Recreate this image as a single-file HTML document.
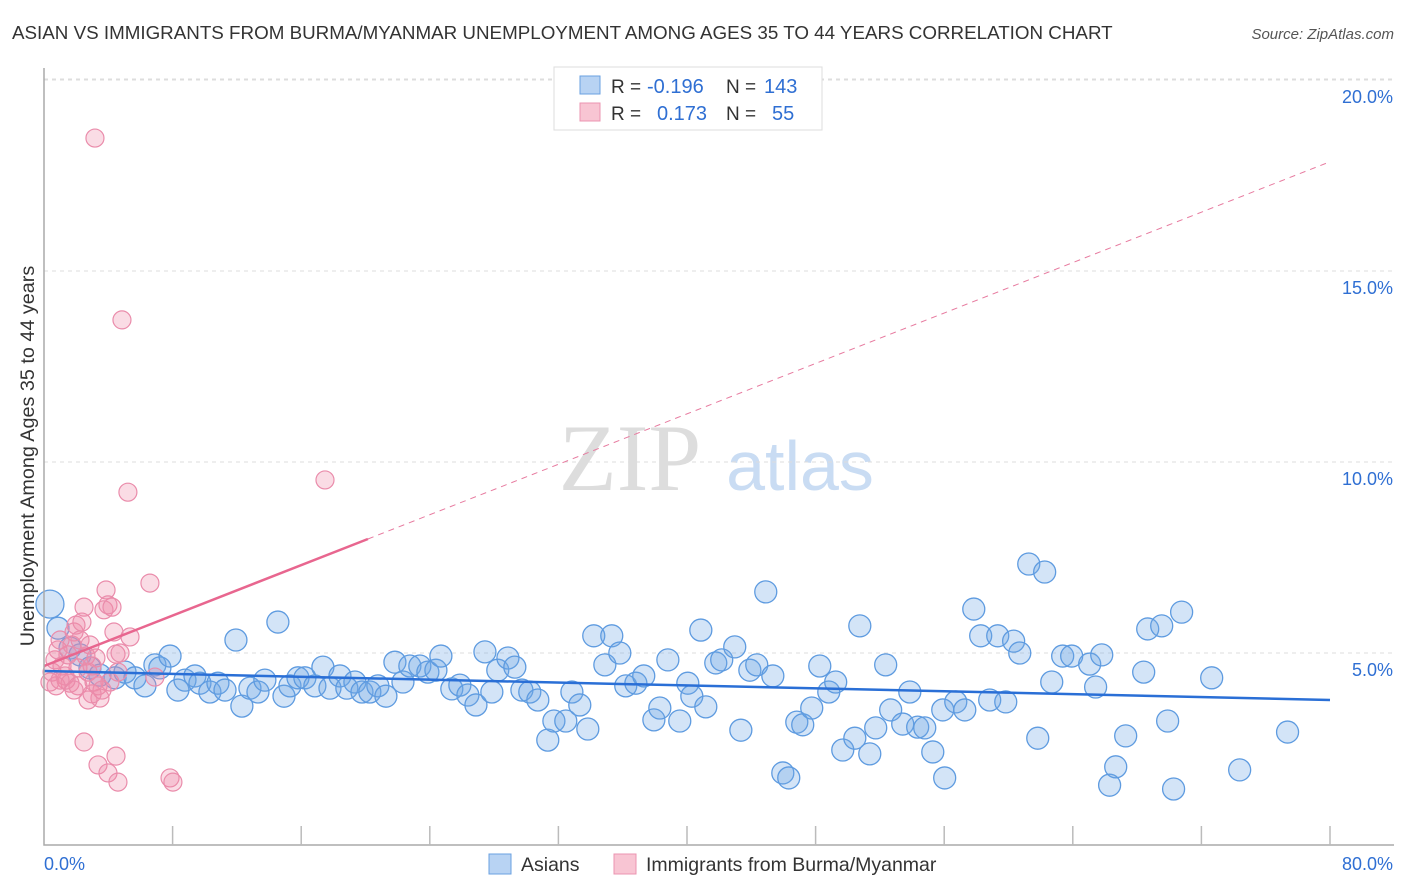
<!DOCTYPE html>
<html><head><meta charset="utf-8"><style>
body{margin:0;background:#fff;font-family:"Liberation Sans",sans-serif}
</style></head><body>
<svg id="c" width="1406" height="892" xmlns="http://www.w3.org/2000/svg" style="display:block">
<text x="12" y="39" font-size="18.8" fill="#333">ASIAN VS IMMIGRANTS FROM BURMA/MYANMAR UNEMPLOYMENT AMONG AGES 35 TO 44 YEARS CORRELATION CHART</text>
<text x="1394" y="39" font-size="15" fill="#555" font-style="italic" text-anchor="end">Source: ZipAtlas.com</text>
<text x="630" y="490" font-size="95" fill="#ddd" font-family="Liberation Serif,serif" text-anchor="middle">ZIP</text>
<text x="800" y="490" font-size="70" fill="#c9dcf3" text-anchor="middle">atlas</text>
<g id="grid"></g><g id="marks"></g><g id="axes"></g>
<text transform="translate(34,456) rotate(-90)" font-size="19.8" fill="#333" text-anchor="middle">Unemployment Among Ages 35 to 44 years</text>
<g>
<rect x="554" y="67" width="268" height="63" fill="#fff" stroke="#ddd"/>
<rect x="580" y="76" width="20" height="18" fill="#b8d3f3" stroke="#6aa0e0"/>
<rect x="580" y="103" width="20" height="18" fill="#f8c5d3" stroke="#eb94b0"/>
<text x="611" y="93" font-size="19" fill="#333">R =</text>
<text x="647" y="93" font-size="20" fill="#2f6fd3">-0.196</text>
<text x="726" y="93" font-size="19" fill="#333">N =</text>
<text x="764" y="93" font-size="20" fill="#2f6fd3">143</text>
<text x="611" y="120" font-size="19" fill="#333">R =</text>
<text x="657" y="120" font-size="20" fill="#2f6fd3">0.173</text>
<text x="726" y="120" font-size="19" fill="#333">N =</text>
<text x="772" y="120" font-size="20" fill="#2f6fd3">55</text>
</g>
<g>
<rect x="489" y="854" width="22" height="20" fill="#b8d3f3" stroke="#6aa0e0"/>
<text x="521" y="871" font-size="19.5" fill="#333">Asians</text>
<rect x="614" y="854" width="22" height="20" fill="#f8c5d3" stroke="#eb94b0"/>
<text x="646" y="871" font-size="19.5" fill="#333">Immigrants from Burma/Myanmar</text>
</g>
</svg>
<script>
const yTicks=[5,10,15,20];
const yTickLabels=["5.0%","10.0%","15.0%","20.0%"];
const xTicks=[8,16,24,32,40,48,56,64,72,80];
const asians=[[0.37,6.28],[0.87,5.65],[1.62,5.13],[2.24,4.95],[2.86,4.61],[3.48,4.42],[4.42,4.35],[5.04,4.50],[5.66,4.35],[6.28,4.14],[6.90,4.69],[7.21,4.61],[7.84,4.92],[8.33,4.03],[8.77,4.29],[9.39,4.40],[9.70,4.21],[10.32,3.98],[10.82,4.21],[11.26,4.03],[11.94,5.34],[12.31,3.61],[12.81,4.08],[13.31,3.98],[13.74,4.29],[14.55,5.81],[14.93,3.87],[15.30,4.14],[15.80,4.35],[16.23,4.35],[16.85,4.14],[17.35,4.63],[17.79,4.08],[18.41,4.40],[18.84,4.08],[19.34,4.24],[19.78,3.98],[20.27,3.98],[20.77,4.14],[21.27,3.87],[21.83,4.76],[22.33,4.24],[22.76,4.66],[23.38,4.66],[23.88,4.50],[24.38,4.55],[24.69,4.92],[25.37,4.06],[25.87,4.16],[26.37,3.90],[26.87,3.64],[27.43,5.03],[27.86,3.98],[28.23,4.55],[28.86,4.87],[29.29,4.63],[29.73,4.03],[30.22,3.98],[30.72,3.77],[31.34,2.72],[31.72,3.22],[32.46,3.22],[32.84,3.98],[33.33,3.64],[33.83,3.01],[34.20,5.45],[34.89,4.69],[35.32,5.45],[35.82,5.00],[36.19,4.14],[36.82,4.21],[37.31,4.40],[37.94,3.25],[38.31,3.56],[38.81,4.82],[39.55,3.22],[40.05,4.21],[40.30,3.87],[40.86,5.60],[41.17,3.59],[41.79,4.74],[42.16,4.82],[42.97,5.16],[43.35,2.98],[43.91,4.55],[44.34,4.69],[44.90,6.60],[45.34,4.40],[45.96,1.86],[46.33,1.73],[46.83,3.19],[47.20,3.12],[47.76,3.56],[48.26,4.66],[48.82,3.98],[49.25,4.24],[49.69,2.46],[50.44,2.77],[50.75,5.71],[51.37,2.36],[51.74,3.04],[52.36,4.69],[52.67,3.51],[53.42,3.14],[53.86,3.98],[54.35,3.06],[54.79,3.04],[55.29,2.41],[56.03,1.73],[55.91,3.51],[56.72,3.72],[57.28,3.51],[57.84,6.15],[58.27,5.45],[58.83,3.77],[59.33,5.45],[59.83,3.72],[60.32,5.31],[60.70,5.00],[61.26,7.33],[61.82,2.77],[62.25,7.12],[62.69,4.24],[63.37,4.92],[63.93,4.92],[65.05,4.71],[65.42,4.11],[65.80,4.95],[66.29,1.54],[66.67,2.02],[67.29,2.83],[68.41,4.50],[68.66,5.63],[69.53,5.71],[69.90,3.22],[70.27,1.44],[70.77,6.07],[72.64,4.35],[74.38,1.94],[77.36,2.93]];
const burma=[[0.37,4.24],[0.50,4.50],[0.68,4.82],[0.87,5.08],[1.00,5.34],[1.12,4.66],[1.31,4.40],[1.49,4.95],[1.62,4.21],[1.74,5.21],[1.87,5.55],[1.99,5.73],[2.11,4.61],[2.24,5.34],[2.36,5.81],[2.49,6.20],[2.61,4.92],[2.74,4.50],[2.86,5.21],[2.99,4.66],[3.11,4.24],[3.23,4.87],[3.36,4.14],[3.48,3.82],[3.61,4.03],[3.73,6.13],[3.86,6.65],[3.98,6.26],[4.10,4.24],[4.23,6.20],[4.35,5.55],[4.48,4.97],[4.60,4.50],[4.73,5.00],[4.85,13.72],[5.22,9.21],[5.35,5.42],[6.59,6.83],[6.90,4.37],[7.84,1.73],[8.02,1.62],[3.17,18.48],[17.48,9.53],[2.49,2.67],[3.36,2.07],[3.98,1.86],[4.48,2.30],[4.60,1.62],[2.11,4.14],[1.37,4.29],[0.75,4.14],[1.00,4.29],[1.87,4.03],[2.74,3.77],[2.99,3.93]];
const asianTrend=[4.53,3.77];
const burmaTrend=[4.66,17.86];
const burmaSolidEnd=20.15;

const NS="http://www.w3.org/2000/svg";
const X0=44,X1=1330,Y0=844,PX=(X1-X0)/80,PY=191/5;
const sx=v=>X0+v*PX, sy=v=>Y0-v*PY;
function mk(tag,attrs,parent){const e=document.createElementNS(NS,tag);for(const k in attrs)e.setAttribute(k,attrs[k]);document.getElementById(parent).appendChild(e);return e;}
yTicks.forEach((t,i)=>{
 const l=mk('line',{x1:X0,x2:1394,y1:sy(t),y2:sy(t),stroke:'#ddd','stroke-dasharray':'4,4'},'grid');
 
 
 const tx=mk('text',{x:1393,y:sy(t)+23,'font-size':18,fill:'#2f6fd3','text-anchor':'end'},'axes');
 tx.textContent=yTickLabels[i];
 
 
});
const topGrid=mk('line',{x1:X0,x2:1394,y1:79,y2:79,stroke:'#ddd','stroke-dasharray':'4,4'},'grid');


asians.forEach((p,i)=>{
 const c=mk('circle',{cx:sx(p[0]),cy:sy(p[1]),r:i===0?14:11,fill:'rgba(110,165,230,0.3)',stroke:'#5e9be0','stroke-width':1.3},'marks');
 
 
});
burma.forEach(p=>{
 const c=mk('circle',{cx:sx(p[0]),cy:sy(p[1]),r:9,fill:'rgba(240,140,170,0.3)',stroke:'#ea8cab','stroke-width':1.2},'marks');
 
 
});
const bt=v=>burmaTrend[0]+(burmaTrend[1]-burmaTrend[0])*v/80;
const l1=mk('line',{x1:sx(burmaSolidEnd),y1:sy(bt(burmaSolidEnd)),x2:sx(80),y2:sy(burmaTrend[1]),stroke:'#e77a9f','stroke-width':1,'stroke-dasharray':'6,5'},'marks');


const l2=mk('line',{x1:sx(0),y1:sy(burmaTrend[0]),x2:sx(burmaSolidEnd),y2:sy(bt(burmaSolidEnd)),stroke:'#e8668f','stroke-width':2.5},'marks');


const l3=mk('line',{x1:sx(0),y1:sy(asianTrend[0]),x2:sx(80),y2:sy(asianTrend[1]),stroke:'#2a6fd6','stroke-width':2.5},'marks');


const axl=mk('path',{d:`M${X0},68 V${Y0+1} H1394`,fill:'none',stroke:'#aaa','stroke-width':1.5},'axes');


xTicks.forEach(t=>{
 const k=mk('line',{x1:sx(t),x2:sx(t),y1:826,y2:845,stroke:'#bbb','stroke-width':1.5},'axes');
 
 
});
const xl=mk('text',{x:44,y:870,'font-size':18,fill:'#2f6fd3'},'axes');xl.textContent='0.0%';


const xr=mk('text',{x:1393,y:870,'font-size':18,fill:'#2f6fd3','text-anchor':'end'},'axes');xr.textContent='80.0%';


</script>
</body></html>
